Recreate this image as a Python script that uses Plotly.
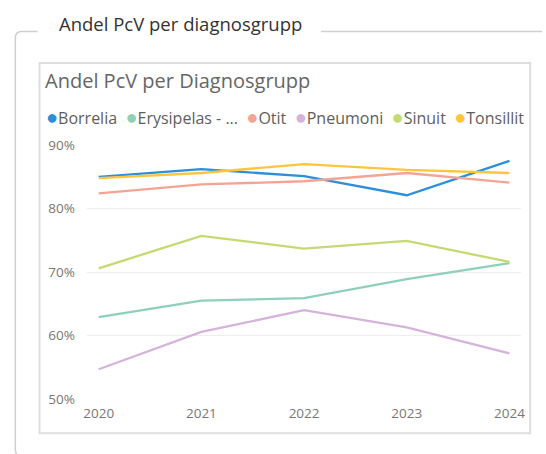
import plotly.graph_objects as go

years = [2020, 2021, 2022, 2023, 2024]
series_names = ["Borrelia", "Erysipelas - ...", "Otit", "Pneumoni", "Sinuit", "Tonsillit"]
borrelia = [0.850, 0.862, 0.851, 0.821, 0.875]
erysipelas = [0.629, 0.655, 0.659, 0.689, 0.714]
otit = [0.824, 0.838, 0.843, 0.856, 0.841]
pneumoni = [0.547, 0.606, 0.640, 0.613, 0.572]
sinuit = [0.706, 0.757, 0.737, 0.749, 0.716]
tonsillit = [0.848, 0.856, 0.870, 0.861, 0.856]
series_values = [borrelia, erysipelas, otit, pneumoni, sinuit, tonsillit]
colors = ["#2B8FDB", "#8ED1B8", "#F3A594", "#D5B3DB", "#C4DA72", "#FFC53D"]
y_ticks = [0.5, 0.6, 0.7, 0.8, 0.9]
y_tick_labels = ["50%", "60%", "70%", "80%", "90%"]

W, H = 546, 454
FONT = "Open Sans"


def px(x):
    return x / W


def py(y):
    y2 = (y - 9) / 0.96
    return 1 - y2 / H


fig = go.Figure()
for name, vals, col in zip(series_names, series_values, colors):
    fig.add_trace(go.Scatter(x=years, y=vals, mode="lines", name=name,
                             line=dict(color=col, width=2.3), showlegend=False,
                             hoverinfo="skip"))

# legend as one annotation
parts = []
for name, col in zip(series_names, colors):
    parts.append(f"<span style='color:{col};font-size:20px'>●</span>{name}")
legend_text = "\u00a0\u00a0".join(parts)

shapes = []
# outer card (rounded top-left corner, gap for title)
shapes.append(dict(type="path", xref="paper", yref="paper",
                   path=(f"M {px(35)},{py(31.5)} L {px(19)},{py(31.5)} "
                         f"Q {px(12.5)},{py(31.5)} {px(12.5)},{py(38)} "
                         f"L {px(12.5)},{py(449)} Q {px(12.5)},{py(453)} {px(14)},{py(454)}"),
                   line=dict(color="#CFCFCF", width=1.5)))
shapes.append(dict(type="line", xref="paper", yref="paper",
                   x0=px(322), x1=1, y0=py(31.5), y1=py(31.5),
                   line=dict(color="#CFCFCF", width=1.5)))
# inner box
shapes.append(dict(type="rect", xref="paper", yref="paper",
                   x0=px(37), x1=px(534), y0=py(63), y1=py(433),
                   line=dict(color="#DEDEDE", width=2)))

annotations = [
    dict(text="Andel PcV per diagnosgrupp", xref="paper", yref="paper",
         x=px(55), y=py(23), xanchor="left", yanchor="middle", showarrow=False,
         font=dict(family=FONT, size=18.5, color="#333333")),
    dict(text="Andel PcV per Diagnosgrupp", xref="paper", yref="paper",
         x=px(41), y=py(80), xanchor="left", yanchor="middle", showarrow=False,
         font=dict(family=FONT, size=20, color="#666666")),
    dict(text=legend_text, xref="paper", yref="paper",
         x=px(42), y=py(116), xanchor="left", yanchor="middle", showarrow=False,
         font=dict(family=FONT, size=16, color="#605E5C")),
]

fig.update_layout(
    autosize=True,
    margin=dict(l=0, r=0, t=0, b=0),
    paper_bgcolor="white", plot_bgcolor="white",
    font=dict(family=FONT, color="#777777", size=13.5),
    shapes=shapes, annotations=annotations,
    xaxis=dict(domain=[px(85), px(525)], range=[2019.885, 2024.115],
               tickvals=years, ticktext=[str(y) for y in years],
               showgrid=False, zeroline=False, showline=False,
               ticklabelstandoff=4, tickfont=dict(size=13.5, color="#777777")),
    yaxis=dict(domain=[py(399), py(145)], range=[0.5, 0.9],
               tickvals=y_ticks, ticktext=y_tick_labels,
               showgrid=True, gridcolor="#EEEEEE", gridwidth=1,
               zeroline=False, showline=False,
               ticklabelstandoff=11, tickfont=dict(size=13.5, color="#777777")),
)

fig.write_html(
    "out.html",
    config={"responsive": True, "displayModeBar": False},
    default_width="100vw", default_height="100vh",
    post_script=("document.documentElement.style.margin='0';"
                 "document.body.style.margin='0';"
                 "document.documentElement.style.overflow='hidden';"
                 "document.body.style.overflow='hidden';"
                 "Plotly.Plots.resize(document.getElementById('{plot_id}'));"),
)
